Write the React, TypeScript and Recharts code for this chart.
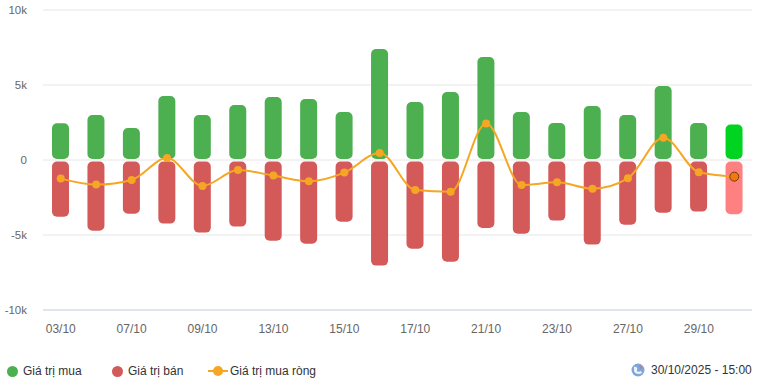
import { ComposedChart, Bar, Line, XAxis, YAxis, CartesianGrid, Cell, Rectangle } from "recharts";

const dates = [
  "03/10", "06/10", "07/10", "08/10", "09/10", "10/10", "13/10", "14/10", "15/10", "16/10",
  "17/10", "20/10", "21/10", "22/10", "23/10", "24/10", "27/10", "28/10", "29/10", "30/10",
];
const buyValues = [
  2450, 3000, 2130, 4270, 3000, 3670, 4200, 4070, 3200, 7400,
  3870, 4530, 6870, 3200, 2470, 3600, 3000, 4930, 2470, 2360,
];
const sellValues = [
  -3780, -4710, -3580, -4240, -4840, -4440, -5380, -5580, -4110, -7040,
  -5910, -6780, -4530, -4910, -4040, -5640, -4310, -3510, -3440, -3620,
];
const netValues = [
  -1240, -1640, -1330, 130, -1730, -670, -1040, -1420, -840, 470,
  -2000, -2110, 2440, -1670, -1490, -1910, -1220, 1490, -820, -1110,
];
const yTicks = [-10000, -5000, 0, 5000, 10000];

const data = dates.map((date, i) => ({
  date,
  buy: buyValues[i],
  sell: sellValues[i],
  net: netValues[i],
}));

const GREEN = "#4caf50";
const RED = "#d45959";
const GREEN_LAST = "#00d420";
const RED_LAST = "#ff8080";
const ORANGE = "#f5a623";

// shrink each bar a little at the zero side so green and red don't touch
function barShape(side: "up" | "down") {
  return (props: any) => {
    const { x, y, width, height, fill } = props;
    let top = Math.min(y, y + height);
    let h = Math.abs(height);
    if (side === "up") h -= 1;
    else {
      top += 1.5;
      h -= 1.5;
    }
    if (h <= 0) return <g />;
    return <Rectangle x={x} y={top} width={width} height={h} radius={5} fill={fill} />;
  };
}

function fmtK(v: number) {
  return v === 0 ? "0" : `${v / 1000}k`;
}

function NetDot(props: any) {
  const { cx, cy, index } = props;
  if (index === dates.length - 1) {
    return <circle key={index} cx={cx} cy={cy} r={4.5} fill="#f07a10" stroke="#7a3a00" strokeWidth={1} />;
  }
  return <circle key={index} cx={cx} cy={cy} r={4} fill={ORANGE} />;
}

function Globe() {
  return (
    <svg width={14} height={14} viewBox="0 0 14 14" style={{ display: "block" }}>
      <circle cx={7} cy={7} r={6.5} fill="#7ea6d8" />
      <path d="M3,4 C5,3 7,5 6,7 C5,9 8,9 10,8 L11,10 C8,12 4,11 3,8 Z" fill="#fff" opacity={0.85} />
      <path d="M8,2 C10,3 12,5 11,6 L9,5 Z" fill="#e06a6a" opacity={0.8} />
    </svg>
  );
}

export default function App() {
  return (
    <div
      style={{
        position: "absolute",
        left: 0,
        top: 0,
        width: 757,
        height: 383,
        background: "#fff",
        fontFamily: "'Liberation Sans', Arial, sans-serif",
      }}
    >
      <ComposedChart
        width={757}
        height={340}
        data={data}
        stackOffset="sign"
        margin={{ top: 10, right: 5, left: 0, bottom: 0 }}
      >
        <CartesianGrid stroke="#e6e6e6" vertical={false} />
        <XAxis
          dataKey="date"
          interval={1}
          tickLine={false}
          axisLine={{ stroke: "#ccd6eb" }}
          tick={{ fontSize: 12, fill: "#666" }}
          height={30}
          tickMargin={8}
        />
        <YAxis
          domain={[-10000, 10000]}
          ticks={yTicks}
          tickFormatter={fmtK}
          tickLine={false}
          axisLine={false}
          width={43}
          tick={{ fontSize: 11.5, fill: "#666" }}
          tickMargin={10}
        />
        <Bar dataKey="buy" stackId="a" barSize={17} isAnimationActive={false} shape={barShape("up")}>
          {data.map((_, i) => (
            <Cell key={i} fill={i === data.length - 1 ? GREEN_LAST : GREEN} />
          ))}
        </Bar>
        <Bar dataKey="sell" stackId="a" barSize={17} isAnimationActive={false} shape={barShape("down")}>
          {data.map((_, i) => (
            <Cell key={i} fill={i === data.length - 1 ? RED_LAST : RED} />
          ))}
        </Bar>
        <Line
          type="monotone"
          dataKey="net"
          stroke={ORANGE}
          strokeWidth={2}
          dot={<NetDot />}
          activeDot={false}
          isAnimationActive={false}
        />
      </ComposedChart>
      <div
        style={{
          position: "absolute",
          top: 362,
          left: 0,
          width: 757,
          height: 16,
          fontSize: 12,
          color: "#333",
        }}
      >
        <div style={{ position: "absolute", left: 7, top: 2, display: "flex", alignItems: "center" }}>
          <span style={{ width: 11, height: 11, borderRadius: 6, background: GREEN, display: "inline-block" }} />
          <span style={{ marginLeft: 5 }}>Giá trị mua</span>
        </div>
        <div style={{ position: "absolute", left: 112, top: 2, display: "flex", alignItems: "center" }}>
          <span style={{ width: 11, height: 11, borderRadius: 6, background: RED, display: "inline-block" }} />
          <span style={{ marginLeft: 5 }}>Giá trị bán</span>
        </div>
        <div style={{ position: "absolute", left: 208, top: 2, display: "flex", alignItems: "center" }}>
          <svg width={20} height={12} style={{ display: "block" }}>
            <line x1={0} y1={6} x2={20} y2={6} stroke={ORANGE} strokeWidth={2} />
            <circle cx={10} cy={6} r={5} fill={ORANGE} />
          </svg>
          <span style={{ marginLeft: 2 }}>Giá trị mua ròng</span>
        </div>
        <div style={{ position: "absolute", left: 631, top: 1, display: "flex", alignItems: "center" }}>
          <Globe />
          <span style={{ marginLeft: 6 }}>30/10/2025 - 15:00</span>
        </div>
      </div>
    </div>
  );
}
